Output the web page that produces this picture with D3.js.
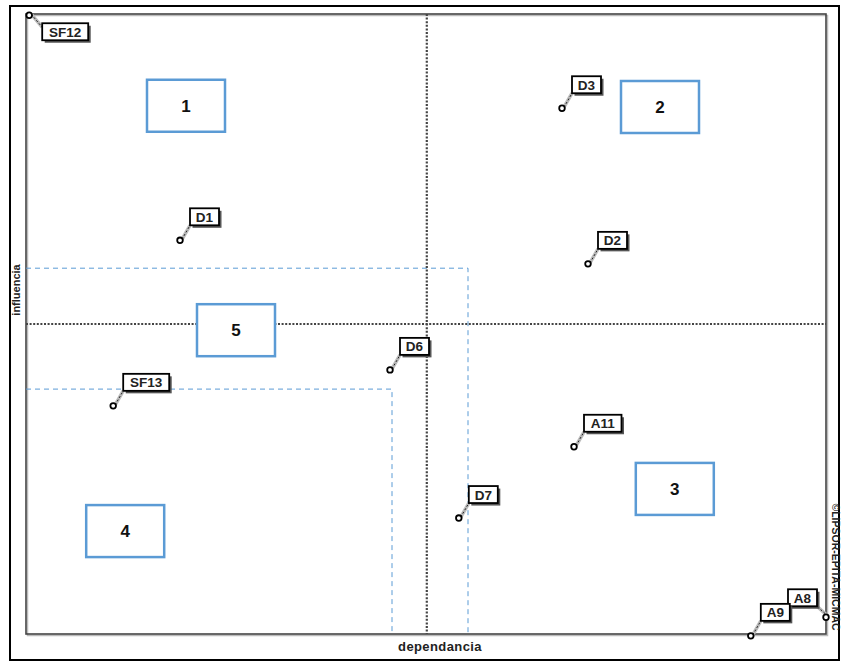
<!DOCTYPE html>
<html><head><meta charset="utf-8">
<script src="https://cdn.jsdelivr.net/npm/d3@7"></script>
<style>body{margin:0;background:#fff}svg{display:block}</style>
</head><body><svg id="c" width="841" height="662"></svg>
<script>
const names = ["SF12","D1","D3","D2","D6","SF13","A11","D7","A8","A9"];
const dependancia = [0.4,19.25,67,70.25,45.5,10.9,68.5,54.1,100,90.6];
const influencia = [99.8,63.5,84.8,59.7,42.6,36.8,30.2,18.7,2.7,-0.3];
const labelSide = ["below","up","up","up","up","up","up","up","left","up"];
const meanX = 50.1, meanY = 50;
const zoneA = {x:55.25, y:59};   // blue dashed rectangle 1
const zoneB = {x:45.75, y:39.5}; // blue dashed rectangle 2
const zoneNames = ["1","2","3","4","5"];
const zoneX = [20,79.25,81.1,12.4,26.25];
const zoneY = [85.2,85,23.4,16.6,49];

const svg = d3.select("#c");
const x = d3.scaleLinear().domain([0,100]).range([26,826]);
const y = d3.scaleLinear().domain([0,100]).range([634,14]);
const font = "Liberation Sans, Arial, sans-serif";

// outer frame
svg.append("rect").attr("x",10).attr("y",6).attr("width",829).attr("height",654)
  .attr("fill","none").attr("stroke","#000").attr("stroke-width",2);
// plot frame shadow + frame
svg.append("rect").attr("x",x(0)+1.5).attr("y",y(100)+1.5).attr("width",x(100)-x(0)).attr("height",y(0)-y(100))
  .attr("fill","none").attr("stroke","#bbb").attr("stroke-width",1.5);
svg.append("rect").attr("x",x(0)).attr("y",y(100)).attr("width",x(100)-x(0)).attr("height",y(0)-y(100))
  .attr("fill","none").attr("stroke","#444").attr("stroke-width",1.6);

// blue dashed zones
const blue = "#5b9bd5";
const dz = svg.append("g").attr("fill","none").attr("stroke",blue).attr("stroke-width",1).attr("stroke-dasharray","5,4");
dz.append("path").attr("d",`M${x(0)},${y(zoneA.y)}H${x(zoneA.x)}V${y(0)}`);
dz.append("path").attr("d",`M${x(0)},${y(zoneB.y)}H${x(zoneB.x)}V${y(0)}`);

// mean lines (dotted)
const ml = svg.append("g").attr("stroke","#444").attr("stroke-width",2.2).attr("stroke-dasharray","2,1.6");
ml.append("line").attr("x1",x(meanX)).attr("x2",x(meanX)).attr("y1",y(100)).attr("y2",y(0));
ml.append("line").attr("x1",x(0)).attr("x2",x(100)).attr("y1",y(meanY)).attr("y2",y(meanY));

// zone boxes
zoneNames.forEach((n,i)=>{
  const cx=x(zoneX[i]), cy=y(zoneY[i]);
  svg.append("rect").attr("x",cx-39).attr("y",cy-26).attr("width",78).attr("height",52)
    .attr("fill","#fff").attr("stroke",blue).attr("stroke-width",2.5);
  svg.append("text").attr("x",cx).attr("y",cy+6).attr("text-anchor","middle")
    .attr("font-family",font).attr("font-weight","bold").attr("font-size",17)
    .attr("fill","#111").text(n);
});

// points + labels
names.forEach((n,i)=>{
  const px=x(dependancia[i]), py=y(influencia[i]);
  const g=svg.append("g");
  const w = n.length*8.5+12, h=17;
  let bx, by, lx, ly;
  if(labelSide[i]==="below"){ bx=px+13; by=py+8; lx=bx; ly=by+4; }
  else if(labelSide[i]==="left"){ bx=px-38; by=py-28; lx=bx+w; ly=by+h; }
  else { bx=px+10; by=py-32; lx=bx; ly=by+h; }
  g.append("line").attr("x1",px+2).attr("y1",py-1).attr("x2",lx).attr("y2",ly)
    .attr("stroke","#bbb").attr("stroke-width",3.5);
  g.append("line").attr("x1",px+2).attr("y1",py-1).attr("x2",lx).attr("y2",ly)
    .attr("stroke","#222").attr("stroke-width",1).attr("stroke-dasharray","2,2");
  g.append("rect").attr("x",bx+2.5).attr("y",by+2.5).attr("width",w).attr("height",h).attr("fill","#555");
  g.append("rect").attr("x",bx).attr("y",by).attr("width",w).attr("height",h)
    .attr("fill","#fff").attr("stroke","#000").attr("stroke-width",1.8);
  g.append("text").attr("x",bx+w/2).attr("y",by+h-3.5).attr("text-anchor","middle")
    .attr("font-family",font).attr("font-size",13.5).attr("font-weight","bold").attr("fill","#222").text(n);
  g.append("circle").attr("cx",px).attr("cy",py).attr("r",2.8).attr("fill","#fff").attr("stroke","#000").attr("stroke-width",1.8);
});

// axis titles
svg.append("text").attr("x",440).attr("y",651).attr("text-anchor","middle")
  .attr("font-family",font).attr("font-size",13).attr("font-weight","bold").attr("letter-spacing",0.4).attr("fill","#222").text("dependancia");
svg.append("text").attr("transform","translate(20,290) rotate(-90)").attr("text-anchor","middle")
  .attr("font-family",font).attr("font-size",11).attr("font-weight","bold").attr("fill","#222").text("influencia");
svg.append("text").attr("transform","translate(832,567) rotate(90)").attr("text-anchor","middle")
  .attr("font-family",font).attr("font-size",10.5).attr("font-weight","bold").attr("fill","#222").text("©LIPSOR-EPITA-MICMAC");
</script></body></html>
